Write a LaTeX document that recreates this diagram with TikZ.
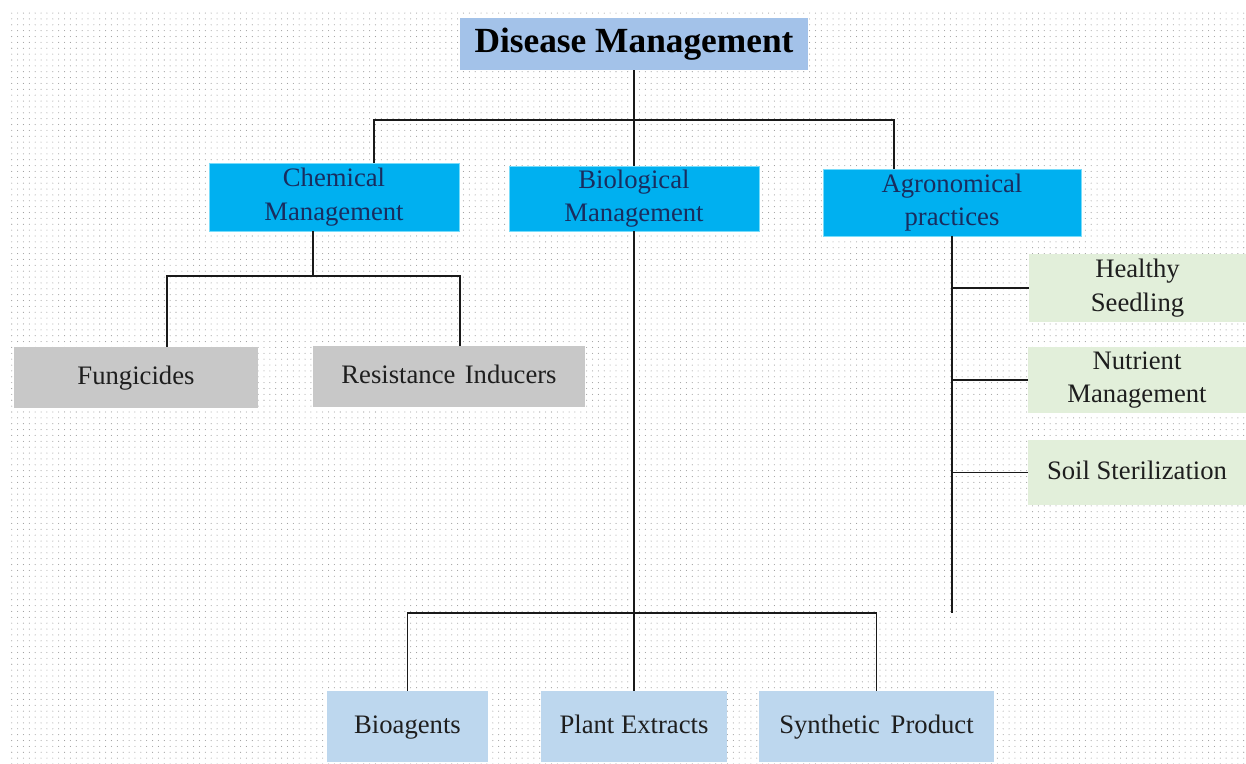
\documentclass[tikz,border=0pt]{standalone}
\usepackage{fontspec}
\setmainfont{Liberation Serif}
\usetikzlibrary{patterns.meta,calc}
\definecolor{titlefill}{RGB}{163,194,233}
\definecolor{cyanfill}{RGB}{0,176,240}
\definecolor{cyanedge}{RGB}{120,220,250}
\definecolor{grayfill}{RGB}{200,200,200}
\definecolor{greenfill}{RGB}{226,239,218}
\definecolor{bluefill}{RGB}{189,215,238}
\definecolor{navytext}{RGB}{25,45,95}
\definecolor{darktext}{RGB}{30,30,30}
\begin{document}
\begin{tikzpicture}[x=0.75pt,y=-0.75pt,
  box/.style={rectangle,inner sep=0pt,align=center,font=\fontsize{20}{25}\selectfont,text=darktext},
  titlebox/.style={box,fill=titlefill,font=\fontsize{26.5}{30}\selectfont\bfseries,text=black},
  cyanbox/.style={box,fill=cyanfill,draw=cyanedge,line width=0.6pt,text=navytext},
  graybox/.style={box,fill=grayfill},
  greenbox/.style={box,fill=greenfill},
  bluebox/.style={box,fill=bluefill},
  link/.style={draw=black!90,line width=1pt}]
\useasboundingbox (0,0) rectangle (1246,764);
\fill[white] (0,0) rectangle (1246,764);
\fill[pattern={Dots[distance=4.4pt,radius=0.4pt]},pattern color=black!40] (8,10) rectangle (1246,764);

\node[titlebox,minimum width=261pt,minimum height=39pt] (title) at (634,44) {\strut Disease Management};

\node[cyanbox,minimum width=187.5pt,minimum height=51pt] (chem) at (334,197) {Chemical\\Management};
\node[cyanbox,minimum width=187.5pt,minimum height=48.75pt] (bio) at (634,198.5) {Biological\\Management};
\node[cyanbox,minimum width=193.5pt,minimum height=50.25pt] (agro) at (952,202.5) {Agronomical\\practices};

\node[graybox,minimum width=183pt,minimum height=45.75pt] (fung) at (136,377.5) {\strut Fungicides};
\node[graybox,minimum width=204pt,minimum height=45.75pt] (resist) at (449,376.5) {\strut Resistance\hspace{0.35em}Inducers};

\node[greenbox,minimum width=162.75pt,minimum height=51pt] (healthy) at (1137.5,288) {Healthy\\Seedling};
\node[greenbox,minimum width=163.5pt,minimum height=49.5pt] (nutrient) at (1137,380) {Nutrient\\Management};
\node[greenbox,minimum width=163.5pt,minimum height=48.75pt] (soil) at (1137,472.5) {\strut Soil Sterilization};

\node[bluebox,minimum width=120.75pt,minimum height=53.25pt] (bioag) at (407.5,726.5) {\strut Bioagents};
\node[bluebox,minimum width=139.5pt,minimum height=53.25pt] (plant) at (634,726.5) {\strut Plant Extracts};
\node[bluebox,minimum width=176.25pt,minimum height=53.25pt] (synth) at (876.5,726.5) {\strut Synthetic\hspace{0.4em}Product};

% top level
\coordinate (topbar) at (634,120);
\draw[link] (title.south) -- (topbar);
\draw[link] ($(chem.north)+(40,0)$) |- (topbar);
\draw[link] ($(agro.north)+(-58,0)$) |- (topbar);
\draw[link] (topbar) -- (bio.north);

% chemical
\coordinate (chembar) at (313,276);
\draw[link] ($(chem.south)+(-21,0)$) -- (chembar);
\draw[link] ($(fung.north)+(31,0)$) |- (chembar);
\draw[link] ($(resist.north)+(11,0)$) |- (chembar);

% biological
\coordinate (biobar) at (634,613);
\draw[link] (bio.south) -- (plant.north);
\draw[link] (bioag.north) |- (biobar);
\draw[link] (synth.north) |- (biobar);

% agronomical
\coordinate (agroend) at (952,613);
\draw[link] (agro.south) -- (agroend);
\draw[link] (healthy.west) -- (healthy.west -| agro.south);
\draw[link] (nutrient.west) -- (nutrient.west -| agro.south);
\draw[link] (soil.west) -- (soil.west -| agro.south);
\end{tikzpicture}
\end{document}
